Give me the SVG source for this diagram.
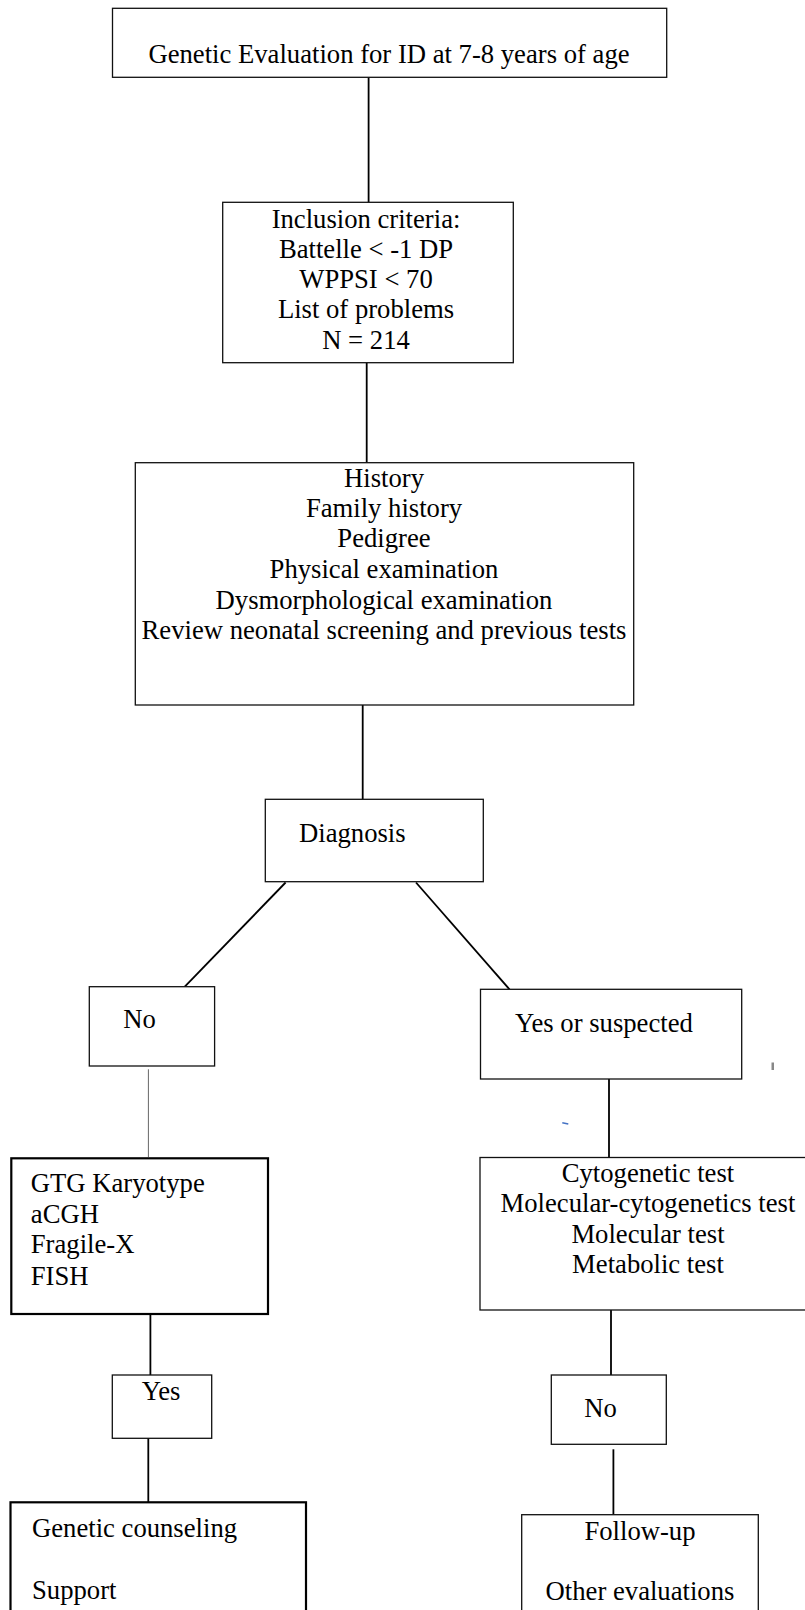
<svg xmlns="http://www.w3.org/2000/svg" width="805" height="1610" viewBox="0 0 805 1610">
<style>
  .box { fill: #fff; stroke: #111; stroke-width: 1.3; }
  .thick { fill: #fff; stroke: #000; stroke-width: 2.2; }
  .t { font-family: "Liberation Serif", "Times New Roman", serif; font-size: 26.67px; fill: #000; }
  .c { text-anchor: middle; }
  .ln { stroke: #000; stroke-width: 1.8; fill: none; }
  .thin { stroke: #666; stroke-width: 1; fill: none; }
</style>
<rect width="805" height="1610" fill="#fff"/>
<g id="connectors">
  <line class="ln" x1="368.6" y1="77.3" x2="368.6" y2="202.3"/>
  <line class="ln" x1="366.7" y1="362.7" x2="366.7" y2="462.7"/>
  <line class="ln" x1="362.7" y1="705" x2="362.7" y2="799.3"/>
  <line class="ln" x1="285.6" y1="882.5" x2="184.8" y2="986.7"/>
  <line class="ln" x1="416" y1="882.5" x2="509.5" y2="989.3"/>
  <line class="thin" x1="148.4" y1="1069.3" x2="148.4" y2="1157"/>
  <line class="ln" x1="609" y1="1079" x2="609" y2="1157.5"/>
  <line class="ln" x1="150.4" y1="1314" x2="150.4" y2="1375"/>
  <line class="ln" x1="148.3" y1="1425" x2="148.3" y2="1502.3"/>
  <line class="ln" x1="611" y1="1310" x2="611" y2="1375"/>
  <line class="ln" x1="613.4" y1="1449.3" x2="613.4" y2="1514.7"/>
</g>
<g id="n-top">
  <rect class="box" x="112.5" y="8.3" width="554.2" height="69"/>
  <text class="t c" x="389" y="63">Genetic Evaluation for ID at 7-8 years of age</text>
</g>
<g id="n-inclusion">
  <rect class="box" x="222.7" y="202.3" width="290.6" height="160.4"/>
  <text class="t c" x="366" y="228.3">Inclusion criteria:</text>
  <text class="t c" x="366" y="258.3">Battelle &lt; -1 DP</text>
  <text class="t c" x="366" y="287.7">WPPSI &lt; 70</text>
  <text class="t c" x="366" y="318.3">List of problems</text>
  <text class="t c" x="366" y="349.3">N = 214</text>
</g>
<g id="n-history">
  <rect class="box" x="135.3" y="462.7" width="498.4" height="242.3"/>
  <text class="t c" x="384" y="486.7">History</text>
  <text class="t c" x="384" y="516.7">Family history</text>
  <text class="t c" x="384" y="546.7">Pedigree</text>
  <text class="t c" x="384" y="578">Physical examination</text>
  <text class="t c" x="384" y="609">Dysmorphological examination</text>
  <text class="t c" x="384" y="639.3">Review neonatal screening and previous tests</text>
</g>
<g id="n-diagnosis">
  <rect class="box" x="265.3" y="799.3" width="218" height="82.4"/>
  <text class="t" x="299" y="841.7">Diagnosis</text>
</g>
<g id="n-no1">
  <rect class="box" x="89.3" y="986.7" width="125.3" height="79.3"/>
  <text class="t" x="123.2" y="1028.3">No</text>
</g>
<g id="n-yes-suspected">
  <rect class="box" x="480.5" y="989.3" width="261.2" height="89.7"/>
  <text class="t" x="514.9" y="1031.7">Yes or suspected</text>
</g>
<g id="marks">
  <rect x="771.5" y="1062.5" width="2.5" height="7.5" fill="#888"/>
  <line x1="562.3" y1="1122.8" x2="568.3" y2="1124" stroke="#4472c4" stroke-width="1.5"/>
</g>
<g id="n-gtg">
  <rect class="thick" x="11.3" y="1158.3" width="256.7" height="155.7"/>
  <text class="t" x="30.8" y="1191.7">GTG Karyotype</text>
  <text class="t" x="30.8" y="1223.3">aCGH</text>
  <text class="t" x="30.8" y="1253.3">Fragile-X</text>
  <text class="t" x="30.8" y="1285">FISH</text>
</g>
<g id="n-tests">
  <rect class="box" x="480" y="1157.5" width="335" height="152.5"/>
  <text class="t c" x="648" y="1181.7">Cytogenetic test</text>
  <text class="t c" x="648" y="1211.7">Molecular-cytogenetics test</text>
  <text class="t c" x="648" y="1243.3">Molecular test</text>
  <text class="t c" x="648" y="1273.3">Metabolic test</text>
</g>
<g id="n-yes">
  <rect class="box" x="112.3" y="1375" width="99.4" height="63.3"/>
  <text class="t" x="141.7" y="1400">Yes</text>
</g>
<g id="n-counseling">
  <rect class="thick" x="10.5" y="1502.3" width="295.5" height="130"/>
  <text class="t" x="32" y="1536.7">Genetic counseling</text>
  <text class="t" x="32" y="1599.3">Support</text>
</g>
<g id="n-no2">
  <rect class="box" x="551.3" y="1375" width="115" height="69.3"/>
  <text class="t" x="584.2" y="1417.3">No</text>
</g>
<g id="n-followup">
  <rect class="box" x="521.7" y="1514.7" width="236.6" height="130"/>
  <text class="t c" x="640" y="1540">Follow-up</text>
  <text class="t c" x="640" y="1600">Other evaluations</text>
</g>
</svg>
